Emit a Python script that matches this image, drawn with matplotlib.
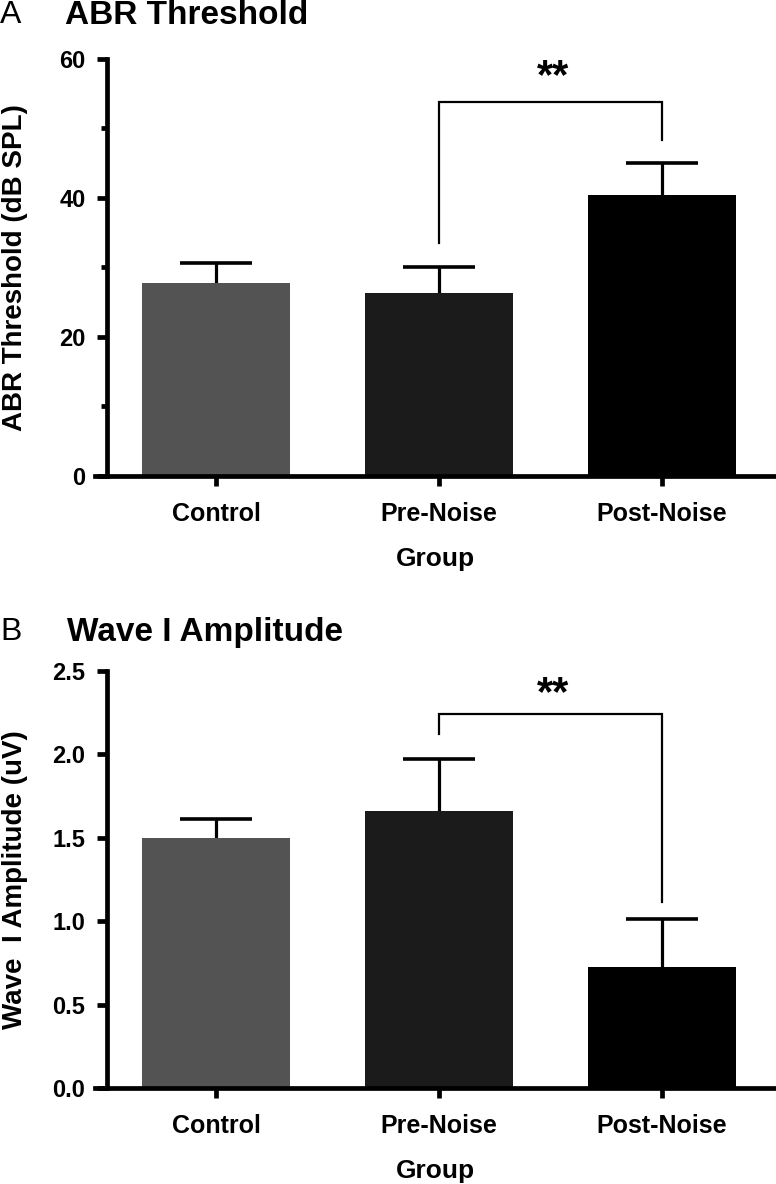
import matplotlib
matplotlib.use("Agg")
import matplotlib.pyplot as plt
import numpy as np
from matplotlib.ticker import MultipleLocator

groups = ["Control", "Pre-Noise", "Post-Noise"]
bar_colors = ["#535353", "#1b1b1b", "#000000"]

abr_mean = [27.8, 26.4, 40.4]
abr_err = [2.8, 3.6, 4.6]
abr_bracket = [33.5, 53.8, 48.3]   # left foot, top, right foot
abr_stars_y = 60.3

wave_mean = [1.50, 1.66, 0.725]
wave_err = [0.11, 0.31, 0.29]
wave_bracket = [2.12, 2.24, 1.115]
wave_stars_y = 2.48

W, H = 776, 1184
fig = plt.figure(figsize=(W / 100, H / 100), dpi=100)

ARIAL = ["Liberation Sans", "DejaVu Sans"]


def px_axes(left, top, right, bottom):
    return fig.add_axes([left / W, 1 - bottom / H, (right - left) / W, (bottom - top) / H])


def bold(t, size):
    t.set_fontfamily(ARIAL)
    t.set_fontweight("bold")
    t.set_fontsize(size)


def panel(ax, means, errs, bracket, stars_y, ylim, major, minor, ylabel, fmt):
    x = np.arange(len(groups))
    ax.bar(x, means, width=0.664, color=bar_colors, zorder=2)
    upper = np.array(means) + np.array(errs)
    ax.vlines(x, means, upper, color="black", lw=2.3, zorder=1)
    ax.hlines(upper, x - 0.162, x + 0.162, color="black", lw=2.6, zorder=1)
    # significance bracket between Pre-Noise and Post-Noise
    ax.plot([1, 1, 2, 2], [bracket[0], bracket[1], bracket[1], bracket[2]],
            color="black", lw=1.6, clip_on=False, solid_joinstyle="miter")
    ax.text(1.51, stars_y, "**", ha="center", va="top", fontsize=30,
            fontweight="bold", family=ARIAL, clip_on=False)

    ax.set_xlim(-0.5426, 2.511)
    ax.set_ylim(*ylim)
    ax.spines["top"].set_visible(False)
    ax.spines["right"].set_visible(False)
    ax.spines["left"].set_position(("data", -0.489))
    for s in ("left", "bottom"):
        ax.spines[s].set_linewidth(3.4)
    ax.spines["left"].set_bounds(ylim[0], ylim[1])

    ax.set_xticks(x)
    ax.set_xticklabels(groups)
    ax.yaxis.set_major_locator(MultipleLocator(major))
    if minor:
        ax.yaxis.set_minor_locator(MultipleLocator(minor))
    ax.set_yticklabels([fmt.format(v) for v in ax.get_yticks()])
    ax.tick_params(axis="both", which="major", direction="out", length=7.5,
                   width=3.4, color="black")
    ax.tick_params(axis="y", which="minor", direction="out", length=4, width=3.4)
    ax.tick_params(axis="x", pad=11)
    ax.tick_params(axis="y", pad=8)
    for lab in ax.get_xticklabels():
        bold(lab, 18)
    for lab in ax.get_yticklabels():
        bold(lab, 17)

    ax.set_xlabel("Group", labelpad=15)
    bold(ax.xaxis.label, 19)
    ax.set_ylabel(ylabel, fontsize=20, fontweight="bold", family=ARIAL, va="center")
    ax.yaxis.set_label_coords((15 - 95) / 681, 0.5)


ax1 = px_axes(95, 59, 776, 476)
panel(ax1, abr_mean, abr_err, abr_bracket, abr_stars_y, (0, 60), 20, 10,
      "ABR Threshold (dB SPL)", "{:.0f}")

ax2 = px_axes(95, 671, 776, 1088)
panel(ax2, wave_mean, wave_err, wave_bracket, wave_stars_y, (0, 2.5), 0.5, None,
      "Wave  I Amplitude (uV)", "{:.1f}")

fig.text(0 / W, 1 - 15 / H, "A", ha="left", va="center", fontsize=23, family=ARIAL)
fig.text(65 / W, 1 - 15 / H, "ABR Threshold", ha="left", va="center", fontsize=24,
         fontweight="bold", family=ARIAL)
fig.text(0 / W, 1 - 632 / H, "B", ha="left", va="center", fontsize=23, family=ARIAL)
fig.text(67 / W, 1 - 632 / H, "Wave I Amplitude", ha="left", va="center", fontsize=24,
         fontweight="bold", family=ARIAL)

fig.savefig("out.png", dpi=100)
